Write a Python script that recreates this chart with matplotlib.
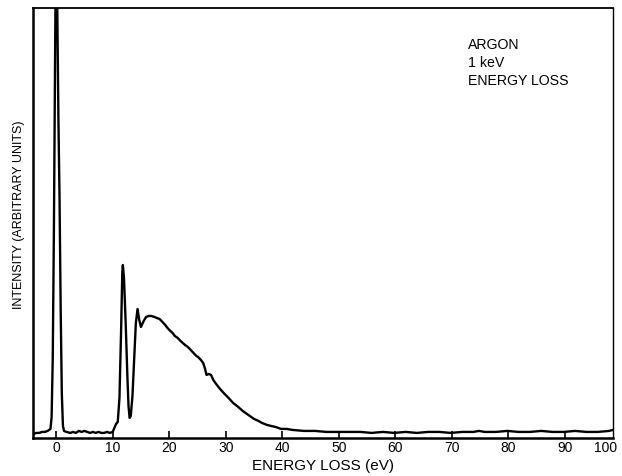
import matplotlib
matplotlib.use('Agg')
import matplotlib.pyplot as plt

plt.rcParams['font.family'] = ['Liberation Sans', 'DejaVu Sans']

# 能量损失 (eV) 与强度 (任意单位)
energy = [-4.0, -3.5, -3.0, -2.5, -2.0, -1.5, -1.0, -0.8, -0.6, -0.4, -0.2, 0.0,
          0.2, 0.4, 0.6, 0.8, 1.0, 1.2, 1.4, 1.8, 2.5, 3.0, 3.5, 4.0, 4.5, 5.0,
          5.5, 6.0, 6.5, 7.0, 7.5, 8.0, 8.5, 9.0, 9.5, 10.0, 10.3, 10.6, 10.9,
          11.2, 11.5, 11.7, 11.8, 12.0, 12.3, 12.6, 12.8, 13.0, 13.2, 13.5, 13.9,
          14.1, 14.4, 14.7, 15.0, 15.4, 15.9, 16.4, 16.8, 17.4, 17.8, 18.3, 18.8,
          19.3, 19.7, 20.2, 20.6, 21.0, 21.5, 22.0, 22.4, 22.8, 23.3, 23.8, 24.3,
          24.8, 25.1, 25.6, 26.0, 26.3, 26.6, 27.0, 27.4, 27.8, 28.3, 28.7, 29.3,
          29.8, 30.5, 31.3, 32.2, 33.0, 34.0, 35.0, 35.8, 36.4, 37.3, 38.0, 38.8,
          39.8, 40.8, 41.8, 43.8, 45.8, 47.8, 49.8, 51.8, 53.8, 55.8, 57.8, 59.8,
          61.8, 63.8, 65.8, 67.8, 69.8, 71.8, 73.8, 74.8, 75.8, 77.8, 79.8, 81.8,
          83.8, 85.8, 87.8, 89.8, 91.8, 93.8, 95.8, 97.8, 98.5]
intensity = [4, 5, 5, 6, 6, 7, 9, 21, 80, 205, 380, 520,
             430, 320, 240, 130, 45, 12, 7, 6, 5, 6, 5, 7, 6, 7,
             6, 5, 6, 5, 6, 5, 5, 6, 5, 6, 10, 14, 16,
             40, 110, 165, 173, 160, 115, 62, 32, 20, 22, 42, 92,
             115, 129, 118, 111, 116, 121, 122, 122, 121, 120, 119, 116,
             113, 110, 107, 105, 102, 100, 97, 95, 93, 91, 88, 85,
             82, 81, 78, 75, 70, 63, 64, 63, 58, 54, 51, 47,
             44, 40, 35, 31, 27, 23, 19, 17, 15, 13, 12, 11,
             9, 9, 8, 7, 7, 6, 6, 6, 6, 5, 6, 5,
             6, 5, 6, 6, 5, 6, 6, 7, 6, 6, 7, 6,
             6, 7, 6, 6, 7, 6, 6, 7, 8]

xticks = [0, 10, 20, 30, 40, 50, 60, 70, 80, 90]
last_label = '100'

fig = plt.figure(figsize=(6.22, 4.76), dpi=100)
ax = fig.add_axes([0.053, 0.08, 0.9325, 0.903])

ax.plot(energy, intensity, color='black', linewidth=1.7)

ax.set_xlim(-4.1, 98.5)
ax.set_ylim(0, 430)
ax.set_xticks(xticks)
ax.set_yticks([])
ax.tick_params(axis='x', direction='in', length=5, width=1.2, labelsize=10, pad=2)

# 原图右端的 "100" 标签挤在边框内
ax.text(0.988, -0.007, last_label, transform=ax.transAxes, fontsize=10,
        ha='center', va='top')

for side, lw in [('left', 1.8), ('bottom', 1.8), ('top', 1.3), ('right', 1.0)]:
    ax.spines[side].set_linewidth(lw)

ax.set_xlabel('ENERGY LOSS (eV)', fontsize=11, labelpad=3)
ax.set_ylabel('INTENSITY (ARBITRARY UNITS)', fontsize=9)
ax.yaxis.set_label_coords(-0.013, 0.52)

ax.text(0.75, 0.93, 'ARGON\n1 keV\nENERGY LOSS', transform=ax.transAxes,
        fontsize=10.2, va='top', ha='left', linespacing=1.35)

fig.savefig('out.png', dpi=100)
